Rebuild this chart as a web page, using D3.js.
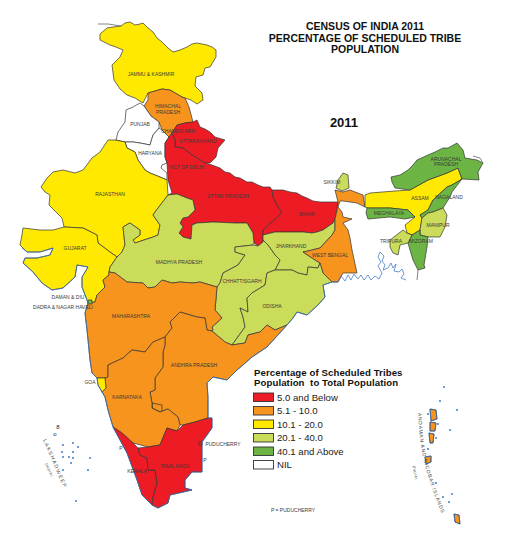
<!DOCTYPE html>
<html>
<head>
<meta charset="utf-8">
<script src="https://cdn.jsdelivr.net/npm/d3@7"></script>
<style>
  html, body { margin: 0; background: #fff; }
  svg { display: block; }
  text { font-family: "Liberation Sans", Arial, sans-serif; }
</style>
</head>
<body>
<svg id="map" width="508" height="537"></svg>
<script>
// Legend classes
const bandLabels = ["5.0 and Below", "5.1 - 10.0", "10.1 - 20.0", "20.1 - 40.0", "40.1 and Above", "NIL"];
const bandColors = ["#ed1c24", "#f7941d", "#ffe900", "#cbdb5a", "#6cb544", "#ffffff"];

// States, drawn in this order
const stateNames = [
  "Jammu & Kashmir", "Himachal Pradesh", "Punjab", "Haryana", "Uttarakhand", "Uttar Pradesh", "Bihar",
  "Jharkhand", "West Bengal", "Sikkim", "Assam", "Arunachal Pradesh", "Nagaland", "Manipur", "Mizoram",
  "Tripura", "Meghalaya", "Rajasthan", "Gujarat", "Madhya Pradesh", "Chhattisgarh", "Odisha", "Maharashtra",
  "Andhra Pradesh", "Karnataka", "Goa", "Kerala", "Tamil Nadu", "Dadra & Nagar Haveli", "Puducherry",
  "Andaman & Nicobar"
];
const stateBands = [
  2, 1, 5, 5, 0, 0, 0,
  3, 1, 3, 2, 4, 4, 3, 4,
  3, 4, 2, 2, 3, 3, 3, 1,
  1, 1, 2, 0, 0, 4, 0,
  1
];

// Island outlines, also traced as coast below
const andamanRings = [
  [[430,409],[436,410],[437,419],[431,421]],
  [[430,422],[436,423],[435,431],[430,431]],
  [[429,433],[434,434],[433,443],[430,443]],
  [[425,457],[431,456],[431,462],[426,464]],
  [[454,514],[459,515],[460,524],[455,522]]
];

// Outlines, in map units
const stateRings = [
  [[[100,34],[107,28],[113,27],[121,26],[125,23],[130,22],[135,25],[140,24],[143,23],[148,28],[153,32],[157,38],[162,42],[168,48],[173,52],[180,50],[187,47],[192,44],[197,43],[207,45],[212,47],[216,50],[216,57],[210,67],[205,68],[203,75],[196,77],[195,86],[199,90],[202,93],[203,100],[197,104],[191,100],[185,98],[182,97],[170,90],[162,89],[148,93],[143,103],[135,98],[127,95],[120,89],[114,80],[112,65],[120,57],[123,50],[116,47],[110,45],[100,40]]],
  [[[148,93],[162,89],[170,90],[182,97],[185,98],[189,107],[193,122],[185,123],[177,125],[172,133],[169,137],[162,130],[159,122],[151,116],[144,106],[148,100]]],
  [[[140,103],[144,106],[151,116],[159,122],[159,128],[153,135],[150,145],[140,143],[133,142],[125,142],[116,140],[118,132],[125,122],[126,110],[133,107]]],
  [[[125,142],[133,142],[140,143],[150,145],[153,135],[159,128],[162,130],[169,137],[165,143],[165,157],[167,163],[162,165],[161,168],[167,173],[167,180],[160,177],[150,173],[145,170],[138,160],[135,152],[127,148]]],
  [[[193,122],[197,120],[200,127],[205,129],[210,132],[215,137],[225,140],[218,148],[216,157],[210,163],[205,163],[192,155],[183,148],[175,147],[175,140],[172,133],[177,125],[185,123]]],
  [[[169,137],[172,133],[175,140],[175,147],[183,148],[192,155],[205,163],[212,165],[220,168],[225,172],[230,173],[235,177],[240,178],[247,182],[252,182],[258,185],[263,187],[270,187],[272,190],[273,197],[277,205],[282,213],[272,222],[263,230],[263,242],[258,246],[254,243],[253,233],[247,223],[235,223],[213,222],[197,223],[192,225],[191,239],[183,237],[179,233],[183,227],[180,223],[183,218],[188,217],[195,210],[193,200],[187,198],[177,194],[168,195],[172,193],[168,180],[167,163],[165,157],[165,143]]],
  [[[272,190],[273,197],[277,205],[282,213],[272,222],[263,230],[263,235],[275,232],[290,232],[303,232],[312,233],[317,232],[323,230],[333,223],[335,219],[337,210],[338,202],[327,202],[320,202],[313,201],[307,198],[302,196],[297,193],[290,192],[283,190]]],
  [[[263,235],[275,232],[290,232],[303,232],[312,233],[317,232],[323,230],[333,223],[335,219],[335,230],[332,235],[320,248],[308,251],[303,252],[312,258],[320,263],[318,268],[308,267],[307,275],[298,273],[292,270],[287,270],[275,270],[280,260],[275,255],[268,245],[263,240]]],
  [[[335,190],[343,192],[350,190],[363,195],[365,207],[357,203],[343,201],[340,201],[338,207],[342,212],[343,217],[352,219],[343,223],[348,230],[350,238],[352,250],[357,273],[343,273],[338,282],[332,282],[323,273],[320,263],[312,258],[303,252],[308,251],[320,248],[332,235],[335,230],[335,219],[337,210],[338,202]]],
  [[[336,188],[338,180],[343,173],[348,175],[349,188],[342,191]]],
  [[[365,195],[370,193],[395,191],[410,190],[428,180],[447,173],[458,168],[462,179],[452,185],[447,187],[433,200],[428,210],[420,215],[422,218],[420,230],[412,235],[407,233],[405,225],[415,217],[408,210],[390,208],[368,208],[365,207]]],
  [[[391,177],[400,175],[408,170],[413,165],[417,160],[428,155],[435,152],[443,148],[448,148],[457,143],[463,150],[465,158],[477,160],[483,163],[478,172],[479,180],[462,179],[458,168],[447,173],[428,180],[410,190],[395,188],[392,182]]],
  [[[447,187],[452,185],[462,179],[452,192],[450,197],[443,208],[433,212],[428,213],[422,218],[420,215],[428,210],[433,200]]],
  [[[428,213],[433,212],[443,208],[447,215],[445,227],[440,237],[428,237],[420,235],[420,230],[422,218]]],
  [[[412,235],[420,230],[420,235],[428,237],[427,247],[424,265],[425,268],[418,270],[413,260],[408,243]]],
  [[[390,240],[403,230],[407,233],[412,235],[408,243],[400,245],[398,255],[393,253],[390,247]]],
  [[[367,208],[368,208],[390,208],[408,210],[415,217],[405,219],[390,217],[368,219],[366,213]]],
  [[[108,140],[115,140],[125,142],[127,148],[135,152],[138,160],[145,170],[150,173],[160,177],[167,180],[168,195],[155,212],[153,215],[160,225],[158,235],[153,237],[135,243],[133,240],[140,235],[140,230],[130,223],[128,224],[123,227],[125,245],[122,252],[117,257],[110,252],[98,243],[97,235],[83,228],[64,227],[62,218],[57,213],[49,205],[50,195],[45,192],[41,187],[47,178],[53,172],[63,170],[75,173],[83,170],[92,158],[100,152]]],
  [[[64,227],[83,228],[97,235],[98,243],[110,252],[117,257],[110,267],[109,272],[109,275],[103,280],[105,287],[97,295],[95,302],[88,303],[87,300],[82,287],[82,277],[88,267],[77,265],[75,277],[63,288],[52,290],[42,283],[33,272],[23,263],[25,258],[37,258],[50,255],[53,248],[40,252],[27,252],[20,245],[22,235],[23,228],[40,230],[53,230]]],
  [[[117,257],[122,252],[125,245],[123,227],[128,224],[130,223],[140,230],[140,235],[133,240],[135,243],[153,237],[158,235],[160,225],[153,215],[155,212],[168,195],[177,194],[187,198],[193,200],[195,210],[188,217],[183,218],[180,223],[183,227],[179,233],[183,237],[191,239],[192,225],[197,223],[213,222],[235,223],[247,223],[253,233],[254,243],[253,245],[235,247],[235,252],[245,255],[238,265],[223,273],[220,283],[217,287],[200,282],[193,283],[180,282],[172,283],[162,280],[155,287],[148,288],[143,283],[127,282],[115,273],[109,272],[110,267]]],
  [[[253,245],[258,246],[263,242],[263,240],[268,245],[275,255],[280,260],[275,270],[267,273],[265,285],[252,293],[247,298],[248,312],[240,308],[243,317],[245,327],[232,345],[225,342],[212,331],[213,330],[212,327],[222,318],[215,310],[217,287],[220,283],[223,273],[238,265],[245,255],[235,252],[235,247]]],
  [[[275,270],[287,270],[292,270],[298,273],[307,275],[308,267],[318,268],[320,263],[323,273],[332,282],[323,285],[325,297],[318,305],[307,315],[297,312],[293,318],[287,325],[275,330],[267,325],[260,332],[248,335],[245,343],[232,345],[245,327],[243,317],[240,308],[248,312],[247,298],[252,293],[265,285],[267,273]]],
  [[[88,303],[95,302],[97,295],[105,287],[103,280],[109,275],[109,272],[115,273],[127,282],[143,283],[148,288],[155,287],[162,280],[172,283],[180,282],[193,283],[200,282],[217,287],[215,310],[222,318],[212,327],[213,330],[212,331],[207,330],[205,318],[197,317],[180,312],[170,322],[172,328],[165,337],[153,342],[145,352],[132,350],[123,358],[108,365],[108,377],[105,378],[97,378],[92,373],[90,360],[87,330],[85,313]]],
  [[[180,312],[197,317],[205,318],[207,330],[212,331],[225,342],[232,345],[245,343],[248,335],[260,332],[267,325],[275,330],[287,325],[267,347],[252,357],[243,365],[237,370],[227,380],[213,377],[207,383],[208,397],[208,407],[208,418],[195,422],[183,425],[180,425],[178,417],[168,409],[160,412],[152,408],[152,403],[150,392],[155,390],[155,378],[163,367],[163,352],[165,345],[165,337],[172,328],[170,322]],
   [[152,403],[162,405],[162,413],[160,412],[152,408]]],
  [[[165,337],[165,345],[163,352],[163,367],[155,378],[155,390],[150,392],[152,403],[152,408],[160,412],[168,409],[178,417],[180,425],[177,431],[167,428],[160,445],[148,447],[133,443],[122,433],[113,427],[108,410],[105,397],[102,392],[106,388],[105,378],[108,377],[108,365],[123,358],[132,350],[145,352],[153,342]]],
  [[[97,378],[105,378],[106,388],[102,392],[98,385]]],
  [[[113,427],[122,433],[133,443],[138,448],[140,455],[147,458],[148,470],[155,470],[157,483],[153,497],[152,505],[142,495],[137,480],[127,453]]],
  [[[138,448],[148,447],[160,445],[167,428],[177,431],[183,425],[195,422],[208,418],[212,418],[212,428],[202,442],[202,472],[192,472],[185,480],[185,488],[192,490],[170,495],[168,503],[158,508],[152,505],[153,497],[157,483],[155,470],[148,470],[147,458],[140,455]]],
  [[[88,300],[92,300],[92,304],[88,304]]],
  [[[199,442],[202,442],[202,445],[199,445]]],
  andamanRings
];

// Land frontier, coast and delta lines
const frontierLines = [
  [[98,24],[108,24],[121,26]],
  [[483,163],[480,158],[473,156]],
  [[418,270],[417,280]]
];
const coastLines = [
  [[88,303],[85,313],[87,330],[90,360],[92,373],[97,378],[98,385],[102,392],[105,397],[108,410],[113,427],[127,453],[137,480],[142,495],[152,505],[158,508],[168,503],[170,495],[192,490],[185,488],[185,480],[192,472],[202,472],[202,442],[212,428],[212,418],[208,418],[208,407],[208,397],[207,383],[213,377],[227,380],[237,370],[243,365],[252,357],[267,347],[287,325],[293,318],[297,312],[307,315],[318,305],[325,297],[323,285],[332,282],[338,282],[341,276],[345,281],[348,275],[351,280],[354,274],[358,279],[361,275],[364,280],[368,275],[371,280],[375,276],[379,279],[382,273],[378,266],[381,262],[378,257],[380,252],[384,256],[382,261],[385,265],[383,270],[388,268],[391,263],[393,268],[396,264],[394,271],[399,272],[402,269],[404,274],[401,278],[406,280]],
  [[88,303],[87,300],[82,287],[82,277],[88,267],[77,265],[75,277],[63,288],[52,290],[42,283],[33,272],[23,263],[25,258],[37,258],[50,255],[53,248],[40,252],[27,252],[22,248]]
].concat(andamanRings.map(r => r.concat([r[0]])));
const islandDots = [[63,445],[73,443],[78,447],[62,452],[73,452],[63,457],[69,457],[73,458],[71,463],[90,458],[88,470],[63,470],[76,501],[444,387],[440,401],[457,410],[450,430],[436,483],[443,497],[452,494],[449,502],[428,414],[438,424],[436,438],[428,449]];

// Map labels: [text, x, y]
const stateLabels = [
  ["JAMMU & KASHMIR",151,74],["HIMACHAL",168,106],["PRADESH",168,112],["PUNJAB",140,124],["CHANDIGARH",178,131],
  ["UTTARAKHAND",198,141],["HARYANA",150,153],["NCT OF DELHI",187,167],["RAJASTHAN",110,194],["UTTAR PRADESH",228,196],
  ["BIHAR",307,214],["SIKKIM",332,182],["ARUNACHAL",446,159],["PRADESH",446,164],["ASSAM",420,198],["NAGALAND",449,197],
  ["MEGHALAYA",389,213],["MANIPUR",438,225],["TRIPURA",391,241],["MIZORAM",421,241],["WEST BENGAL",330,255],
  ["JHARKHAND",291,246],["MADHYA PRADESH",179,262],["CHHATTISGARH",242,281],["ODISHA",272,306],["GUJARAT",75,248],
  ["DAMAN & DIU",68,297],["DADRA & NAGAR HAVELI",63,307],["MAHARASHTRA",131,316],["ANDHRA PRADESH",194,365],
  ["KARNATAKA",127,397],["GOA",90,382],["KERALA",137,471],["TAMIL NADU",175,466],["PUDUCHERRY",223,444],
  ["P",121,448],["P",205,460],["P = PUDUCHERRY",293,510]
];
const titleLines = ["CENSUS OF INDIA 2011", "PERCENTAGE OF SCHEDULED TRIBE", "POPULATION"];
const legendTitle = ["Percentage of Scheduled Tribes", "Population  to Total Population"];

const svg = d3.select("#map");
const color = d3.scaleOrdinal().domain(d3.range(bandLabels.length)).range(bandColors);
const path = d3.geoPath(d3.geoIdentity());

// States
const states = stateNames.map((name, i) => ({
  type: "Feature",
  properties: { name, band: stateBands[i] },
  geometry: { type: "MultiPolygon", coordinates: stateRings[i].map(r => [r.concat([r[0]])]) }
}));

svg.append("g").selectAll("path")
  .data(states).enter()
  .append("path")
  .attr("d", path)
  .attr("fill", d => color(d.properties.band))
  .attr("stroke", "#333")
  .attr("stroke-width", 0.7)
  .attr("stroke-linejoin", "round");

// Frontier and coast
svg.append("path")
  .attr("d", path({ type: "MultiLineString", coordinates: frontierLines }))
  .attr("fill", "none")
  .attr("stroke", "#666")
  .attr("stroke-width", 0.8);

svg.append("path")
  .attr("d", path({ type: "MultiLineString", coordinates: coastLines }))
  .attr("fill", "none")
  .attr("stroke", "#2f6fc0")
  .attr("stroke-width", 0.7);

// Islands
svg.append("g").selectAll("circle")
  .data(islandDots).enter()
  .append("circle")
  .attr("cx", d => d[0])
  .attr("cy", d => d[1])
  .attr("r", 0.9)
  .attr("fill", "#2f6fc0");

// Labels
svg.append("g").selectAll("text")
  .data(stateLabels).enter()
  .append("text")
  .attr("x", d => d[1])
  .attr("y", d => d[2] + 1.8)
  .attr("text-anchor", "middle")
  .attr("font-size", 5)
  .attr("fill", "#3a3a3a")
  .text(d => d[0]);

// Title
svg.append("g").selectAll("text")
  .data(titleLines).enter()
  .append("text")
  .attr("x", 365)
  .attr("y", (d, i) => 30 + i * 11.6)
  .attr("text-anchor", "middle")
  .attr("font-size", 10.5)
  .attr("font-weight", "bold")
  .attr("fill", "#111")
  .text(d => d);

svg.append("text")
  .attr("x", 344)
  .attr("y", 127)
  .attr("text-anchor", "middle")
  .attr("font-size", 13)
  .attr("font-weight", "bold")
  .attr("fill", "#111")
  .text("2011");

// Curved island labels
const curve = d3.line().curve(d3.curveBasis);
const curvedLabels = [
  { id: "arcLak", text: "LAKSHADWEEP", size: 5.2, spacing: 1.2, pts: [[43,440],[57,472],[72,508]] },
  { id: "arcLakIn", text: "(INDIA)", size: 3.4, spacing: 0.4, pts: [[45,464],[49,473],[54,483]] },
  { id: "arcAnd", text: "ANDAMAN AND NICOBAR ISLANDS", size: 5, spacing: 0.75, pts: [[418,413],[421,462],[446,524]] },
  { id: "arcAndIn", text: "(INDIA)", size: 3.4, spacing: 0.4, pts: [[413,466],[414,476],[418,486]] }
];
const defs = svg.append("defs");
curvedLabels.forEach(c => {
  defs.append("path").attr("id", c.id).attr("d", curve(c.pts));
  svg.append("text")
    .attr("font-size", c.size)
    .attr("letter-spacing", c.spacing)
    .attr("fill", "#444")
    .append("textPath")
    .attr("href", "#" + c.id)
    .text(c.text);
});
svg.append("text").attr("x", 58).attr("y", 429).attr("font-size", 6).attr("text-anchor", "middle").attr("fill", "#222").text("8");
svg.append("text").attr("x", 55).attr("y", 436).attr("font-size", 6).attr("text-anchor", "middle").attr("fill", "#222").text("o");

// Legend
svg.append("g").selectAll("text")
  .data(legendTitle).enter()
  .append("text")
  .attr("x", 254)
  .attr("y", (d, i) => 375.5 + i * 10.7)
  .style("white-space", "pre")
  .attr("font-size", 9.6)
  .attr("font-weight", "bold")
  .attr("letter-spacing", 0.1)
  .attr("fill", "#111")
  .text(d => d);

const legendY = d3.scaleBand().domain(bandLabels).range([393, 469]).paddingInner(0.37);
const legend = svg.append("g").selectAll("g")
  .data(bandLabels).enter()
  .append("g");

legend.append("rect")
  .attr("x", 253.5)
  .attr("y", d => legendY(d))
  .attr("width", 20)
  .attr("height", legendY.bandwidth())
  .attr("fill", (d, i) => color(i))
  .attr("stroke", "#333")
  .attr("stroke-width", 0.9);

legend.append("text")
  .attr("x", 277)
  .attr("y", d => legendY(d) + legendY.bandwidth() / 2 + 3.3)
  .attr("font-size", 9.6)
  .attr("fill", "#222")
  .text(d => d);
</script>
</body>
</html>
